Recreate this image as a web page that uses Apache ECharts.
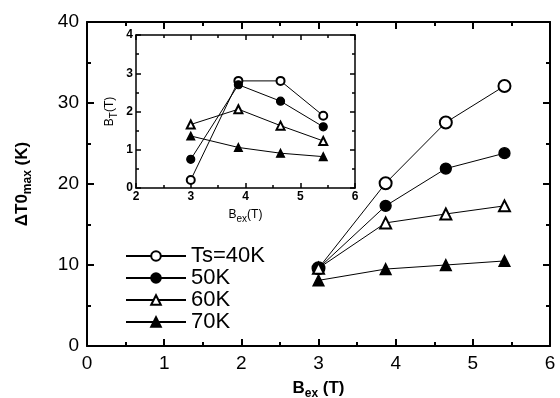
<!DOCTYPE html>
<html>
<head>
<meta charset="utf-8">
<script src="https://cdn.jsdelivr.net/npm/echarts@6/dist/echarts.min.js"></script>
<style>
  html, body { margin: 0; padding: 0; background: #fff; }
  #main { width: 560px; height: 398px; }
</style>
</head>
<body>
<div id="main"></div>
<script>
// main plot data: B_ex (T) vs dT0max (K)
var bex = [3.0, 3.87, 4.65, 5.41];
var ts40 = [9.6, 20.1, 27.6, 32.1];
var ts50 = [9.6, 17.3, 21.9, 23.8];
var ts60 = [9.6, 15.2, 16.3, 17.3];
var ts70 = [8.1, 9.5, 10.0, 10.5];

// inset data: B_ex (T) vs B_T (T)
var bexIn = [3.0, 3.87, 4.64, 5.42];
var bt40 = [0.21, 2.8, 2.8, 1.89];
var bt50 = [0.75, 2.7, 2.27, 1.6];
var bt60 = [1.66, 2.06, 1.63, 1.23];
var bt70 = [1.36, 1.06, 0.91, 0.82];

var names = ['Ts=40K', '50K', '60K', '70K'];
var symbols = ['emptyCircle', 'circle', 'emptyTriangle', 'triangle'];

function pairs(xs, ys) {
  return xs.map(function(x, i) { return [x, ys[i]]; });
}

var font = 'Liberation Sans, Arial, Helvetica, sans-serif';

var chart = echarts.init(document.getElementById('main'));

function axisBase(min, max, interval, opts) {
  var a = {
    min: min, max: max, interval: interval,
    axisLine: { show: true, onZero: false, lineStyle: { color: '#000', width: opts.lw } },
    axisTick: { show: true, inside: true, length: opts.tl, lineStyle: { color: '#000', width: opts.lw } },
    minorTick: { show: true, splitNumber: 2, length: opts.ml, lineStyle: { color: '#000', width: opts.lw } },
    splitLine: { show: false },
    axisLabel: opts.label === false ? { show: false } : {
      color: '#000', fontSize: opts.fs, fontFamily: font, fontWeight: opts.fw || 'normal', margin: opts.margin
    }
  };
  return a;
}

var mainOpt = { lw: 2, tl: 7, ml: 4, fs: 19, margin: 8 };
var inOpt = { lw: 1.5, tl: 5, ml: 3, fs: 12, fw: 'bold', margin: 3 };

var xAxes = [
  Object.assign(axisBase(0, 6, 1, mainOpt), {
    type: 'value', gridIndex: 0, position: 'bottom',
    name: '{b|B}{s|ex}{b| (T)}', nameLocation: 'middle', nameGap: 30,
    nameTextStyle: { rich: {
      b: { fontSize: 17, fontWeight: 'bold', fontFamily: font, color: '#000' },
      s: { fontSize: 12, fontWeight: 'bold', fontFamily: font, color: '#000', padding: [12, 0, 0, 0] }
    } }
  }),
  Object.assign(axisBase(0, 6, 1, Object.assign({}, mainOpt, { label: false })), {
    type: 'value', gridIndex: 0, position: 'top'
  }),
  Object.assign(axisBase(2, 6, 1, inOpt), {
    type: 'value', gridIndex: 1, position: 'bottom',
    name: '{b|B}{s|ex}{b|(T)}', nameLocation: 'middle', nameGap: 18,
    nameTextStyle: { rich: {
      b: { fontSize: 12, fontFamily: font, color: '#000' },
      s: { fontSize: 10, fontFamily: font, color: '#000', padding: [8, 0, 0, 0] }
    } }
  }),
  Object.assign(axisBase(2, 6, 1, Object.assign({}, inOpt, { label: false })), {
    type: 'value', gridIndex: 1, position: 'top'
  })
];

var yAxes = [
  Object.assign(axisBase(0, 40, 10, mainOpt), {
    type: 'value', gridIndex: 0, position: 'left',
    name: '{b|ΔT0}{s|max}{b| (K)}', nameLocation: 'middle', nameGap: 53,
    nameTextStyle: { rich: {
      b: { fontSize: 17, fontWeight: 'bold', fontFamily: font, color: '#000' },
      s: { fontSize: 12, fontWeight: 'bold', fontFamily: font, color: '#000', padding: [12, 0, 0, 0] }
    } }
  }),
  Object.assign(axisBase(0, 40, 10, Object.assign({}, mainOpt, { label: false })), {
    type: 'value', gridIndex: 0, position: 'right'
  }),
  Object.assign(axisBase(0, 4, 1, inOpt), {
    type: 'value', gridIndex: 1, position: 'left',
    name: '{b|B}{s|T}{b|(T)}', nameLocation: 'middle', nameGap: 17,
    nameTextStyle: { rich: {
      b: { fontSize: 12, fontFamily: font, color: '#000' },
      s: { fontSize: 10, fontFamily: font, color: '#000', padding: [8, 0, 0, 0] }
    } }
  }),
  Object.assign(axisBase(0, 4, 1, Object.assign({}, inOpt, { label: false })), {
    type: 'value', gridIndex: 1, position: 'right'
  })
];

var mainData = [ts40, ts50, ts60, ts70];
var inData = [bt40, bt50, bt60, bt70];
var series = [];
mainData.forEach(function(ys, i) {
  series.push({
    name: names[i], type: 'line', xAxisIndex: 0, yAxisIndex: 0,
    data: pairs(bex, ys), symbol: symbols[i], symbolSize: i === 0 ? 12 : 11,
    lineStyle: { color: '#000', width: 1 },
    itemStyle: { color: '#000', borderColor: '#000', borderWidth: 1.3 },
    animation: false, z: 3
  });
});
inData.forEach(function(ys, i) {
  series.push({
    name: 'inset ' + names[i], type: 'line', xAxisIndex: 2, yAxisIndex: 2,
    data: pairs(bexIn, ys), symbol: symbols[i], symbolSize: 8,
    lineStyle: { color: '#000', width: 1 },
    itemStyle: { color: '#000', borderColor: '#000', borderWidth: 1.2 },
    animation: false, z: 3
  });
});

chart.setOption({
  backgroundColor: '#fff',
  animation: false,
  grid: [
    { left: 87, right: 10, top: 22, bottom: 52, outerBoundsMode: 'none' },
    { left: 136, top: 35, width: 219, height: 153, outerBoundsMode: 'none',
      backgroundColor: '#fff', show: true, borderWidth: 0 }
  ],
  legend: {
    data: names, orient: 'vertical', left: 120, top: 240,
    itemWidth: 60, itemHeight: 12, itemGap: 0,
    textStyle: { fontSize: 22, fontFamily: font, color: '#000' },
    selectedMode: false
  },
  xAxis: xAxes,
  yAxis: yAxes,
  series: series
});
</script>
</body>
</html>
